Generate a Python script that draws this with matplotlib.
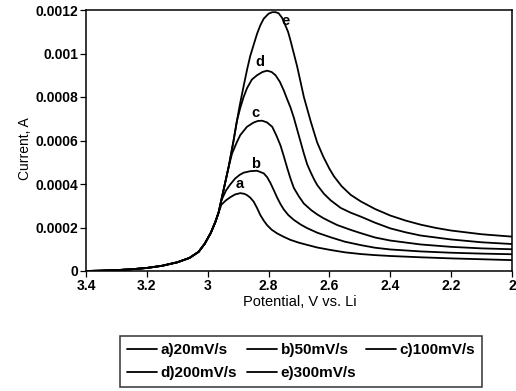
import matplotlib
matplotlib.use("Agg")
import matplotlib.pyplot as plt

plt.rcParams['font.family'] = ['Liberation Sans', 'DejaVu Sans']
plt.rcParams['font.weight'] = 'bold'

# shared rising branch (all scan rates coincide)
rise_v = [3.40, 3.35, 3.30, 3.25, 3.20, 3.15, 3.10, 3.06, 3.03, 3.01, 2.99, 2.975, 2.964]
rise_i = [0.0, 0.0000015, 0.000004, 0.000008, 0.000014, 0.000024, 0.00004, 0.00006,
          0.000088, 0.000125, 0.000175, 0.000225, 0.00027]

a_v = [2.955, 2.94, 2.925, 2.91, 2.893, 2.88, 2.871, 2.86, 2.849, 2.838, 2.827, 2.816,
       2.805, 2.79, 2.772, 2.75, 2.728, 2.70, 2.673, 2.64, 2.596, 2.55, 2.497, 2.45,
       2.40, 2.30, 2.20, 2.10, 2.00]
a_i = [0.000305, 0.000325, 0.00034, 0.000352, 0.000358, 0.000355, 0.000349, 0.000337,
       0.000319, 0.00029, 0.000257, 0.000232, 0.000211, 0.00019, 0.000173, 0.000157,
       0.000143, 0.00013, 0.00012, 0.000108, 0.0000966, 0.000086, 0.000078, 0.000073,
       0.000069, 0.000063, 0.000058, 0.000054, 0.00005]

b_v = [2.955, 2.94, 2.926, 2.91, 2.895, 2.882, 2.86, 2.838, 2.816, 2.805, 2.794, 2.783,
       2.772, 2.761, 2.75, 2.735, 2.717, 2.695, 2.673, 2.64, 2.596, 2.55, 2.497, 2.45,
       2.40, 2.30, 2.20, 2.10, 2.00]
b_i = [0.000325, 0.00037, 0.000398, 0.000425, 0.000442, 0.000452, 0.000459, 0.000461,
       0.000449, 0.000432, 0.000405, 0.000372, 0.000338, 0.000308, 0.000283, 0.000257,
       0.000235, 0.000214, 0.000197, 0.000176, 0.000155, 0.000135, 0.000119, 0.000107,
       0.000099, 0.00009, 0.000084, 0.00008, 0.000077]

c_v = [2.948, 2.931, 2.92, 2.905, 2.893, 2.871, 2.85, 2.835, 2.821, 2.805, 2.788,
       2.775, 2.761, 2.75, 2.739, 2.728, 2.717, 2.70, 2.684, 2.66, 2.64, 2.62, 2.596,
       2.574, 2.53, 2.497, 2.45, 2.40, 2.30, 2.20, 2.10, 2.00]
c_i = [0.000372, 0.00048, 0.00054, 0.00059, 0.000625, 0.000663, 0.000682, 0.00069,
       0.000691, 0.000683, 0.000663, 0.000625, 0.000578, 0.000528, 0.000475, 0.000425,
       0.000382, 0.000342, 0.00031, 0.00028, 0.00026, 0.000243, 0.000226, 0.000211,
       0.000189, 0.000174, 0.000154, 0.00014, 0.000122, 0.000111, 0.000104, 0.0001]

d_v = [2.948, 2.931, 2.915, 2.904, 2.893, 2.882, 2.871, 2.855, 2.838, 2.82, 2.805,
       2.79, 2.777, 2.763, 2.75, 2.739, 2.728, 2.717, 2.706, 2.695, 2.684, 2.673, 2.662,
       2.65, 2.64, 2.618, 2.596, 2.563, 2.53, 2.497, 2.45, 2.40, 2.35, 2.30, 2.20,
       2.10, 2.00]
d_i = [0.000372, 0.00048, 0.0006, 0.00069, 0.00075, 0.0008, 0.00084, 0.00088, 0.0009,
       0.000915, 0.000921, 0.000915, 0.0009, 0.00087, 0.00083, 0.00079, 0.000752,
       0.000705, 0.00065, 0.000595, 0.00054, 0.00049, 0.000455, 0.00042, 0.000395,
       0.000355, 0.000325, 0.00029, 0.000268, 0.00025, 0.000222, 0.000196, 0.000178,
       0.000163, 0.000145, 0.000132, 0.000124]

e_v = [2.948, 2.931, 2.915, 2.904, 2.895, 2.882, 2.87, 2.86, 2.849, 2.838, 2.827,
       2.816, 2.80, 2.788, 2.777, 2.767, 2.756, 2.745, 2.736, 2.728, 2.717, 2.706,
       2.695, 2.684, 2.673, 2.662, 2.65, 2.64, 2.62, 2.60, 2.585, 2.56, 2.53, 2.497,
       2.45, 2.40, 2.35, 2.30, 2.25, 2.20, 2.10, 2.00]
e_i = [0.000372, 0.00048, 0.0006, 0.00069, 0.00076, 0.00085, 0.00093, 0.00099,
       0.00104, 0.00109, 0.00113, 0.00116, 0.001183, 0.00119, 0.00119, 0.001185,
       0.001165, 0.00113, 0.0011, 0.00106, 0.001, 0.00094, 0.00087, 0.0008, 0.000745,
       0.00069, 0.000635, 0.00059, 0.000525, 0.00047, 0.000435, 0.00039, 0.00035,
       0.00032, 0.000285, 0.000255, 0.000232, 0.000213, 0.000198, 0.000186, 0.000169,
       0.000158]

series_labels = ["a)20mV/s", "b)50mV/s", "c)100mV/s", "d)200mV/s", "e)300mV/s"]
curve_tags = ["a", "b", "c", "d", "e"]
tag_v = [2.895, 2.843, 2.843, 2.827, 2.745]
tag_i = [0.0004, 0.000492, 0.000725, 0.000962, 0.00115]

x_ticks = [3.4, 3.2, 3.0, 2.8, 2.6, 2.4, 2.2, 2.0]
x_ticklabels = ["3.4", "3.2", "3", "2.8", "2.6", "2.4", "2.2", "2"]
y_ticks = [0, 0.0002, 0.0004, 0.0006, 0.0008, 0.001, 0.0012]
y_ticklabels = ["0", "0.0002", "0.0004", "0.0006", "0.0008", "0.001", "0.0012"]

fig = plt.figure(figsize=(5.16, 3.91), dpi=100)
ax = fig.add_axes([86/516, 1-271/391, (512-86)/516, (271-10)/391])

tails = [(a_v, a_i), (b_v, b_i), (c_v, c_i), (d_v, d_i), (e_v, e_i)]
handles = []
for (tv, ti), lab in zip(tails, series_labels):
    v = list(rise_v) + list(tv)
    i = list(rise_i) + list(ti)
    h, = ax.plot(v, i, color='black', lw=1.3, label=lab,
                 solid_joinstyle='round', solid_capstyle='round')
    handles.append(h)

for t, tv, ti in zip(curve_tags, tag_v, tag_i):
    ax.text(tv, ti, t, fontsize=10.5, ha='center', va='center')

ax.set_xlim(3.4, 2.0)
ax.set_ylim(0, 0.0012)
ax.set_xticks(x_ticks)
ax.set_xticklabels(x_ticklabels)
ax.set_yticks(y_ticks)
ax.set_yticklabels(y_ticklabels)
ax.tick_params(direction='out', length=4.5, width=0.9, labelsize=10, pad=1.0)
for s in ax.spines.values():
    s.set_linewidth(1.1)

ax.set_xlabel("Potential, V vs. Li", fontsize=10.5, va='top')
ax.xaxis.set_label_coords(0.501, -0.092)
ax.set_ylabel("Current, A", fontsize=10, va='center')
ax.yaxis.set_label_coords((25-86)/426, 0.47)

order = [0, 3, 1, 4, 2]
leg = fig.legend([handles[k] for k in order], [series_labels[k] for k in order],
                 ncol=3, loc='upper left', bbox_to_anchor=(120/516, 1-336/391),
                 fontsize=11, frameon=True, fancybox=False, edgecolor='black',
                 handlelength=1.95, handletextpad=0.25, columnspacing=0.65,
                 borderpad=0.45, labelspacing=0.62, borderaxespad=0)
leg.get_frame().set_linewidth(1.1)

fig.savefig("out.png", dpi=100)
